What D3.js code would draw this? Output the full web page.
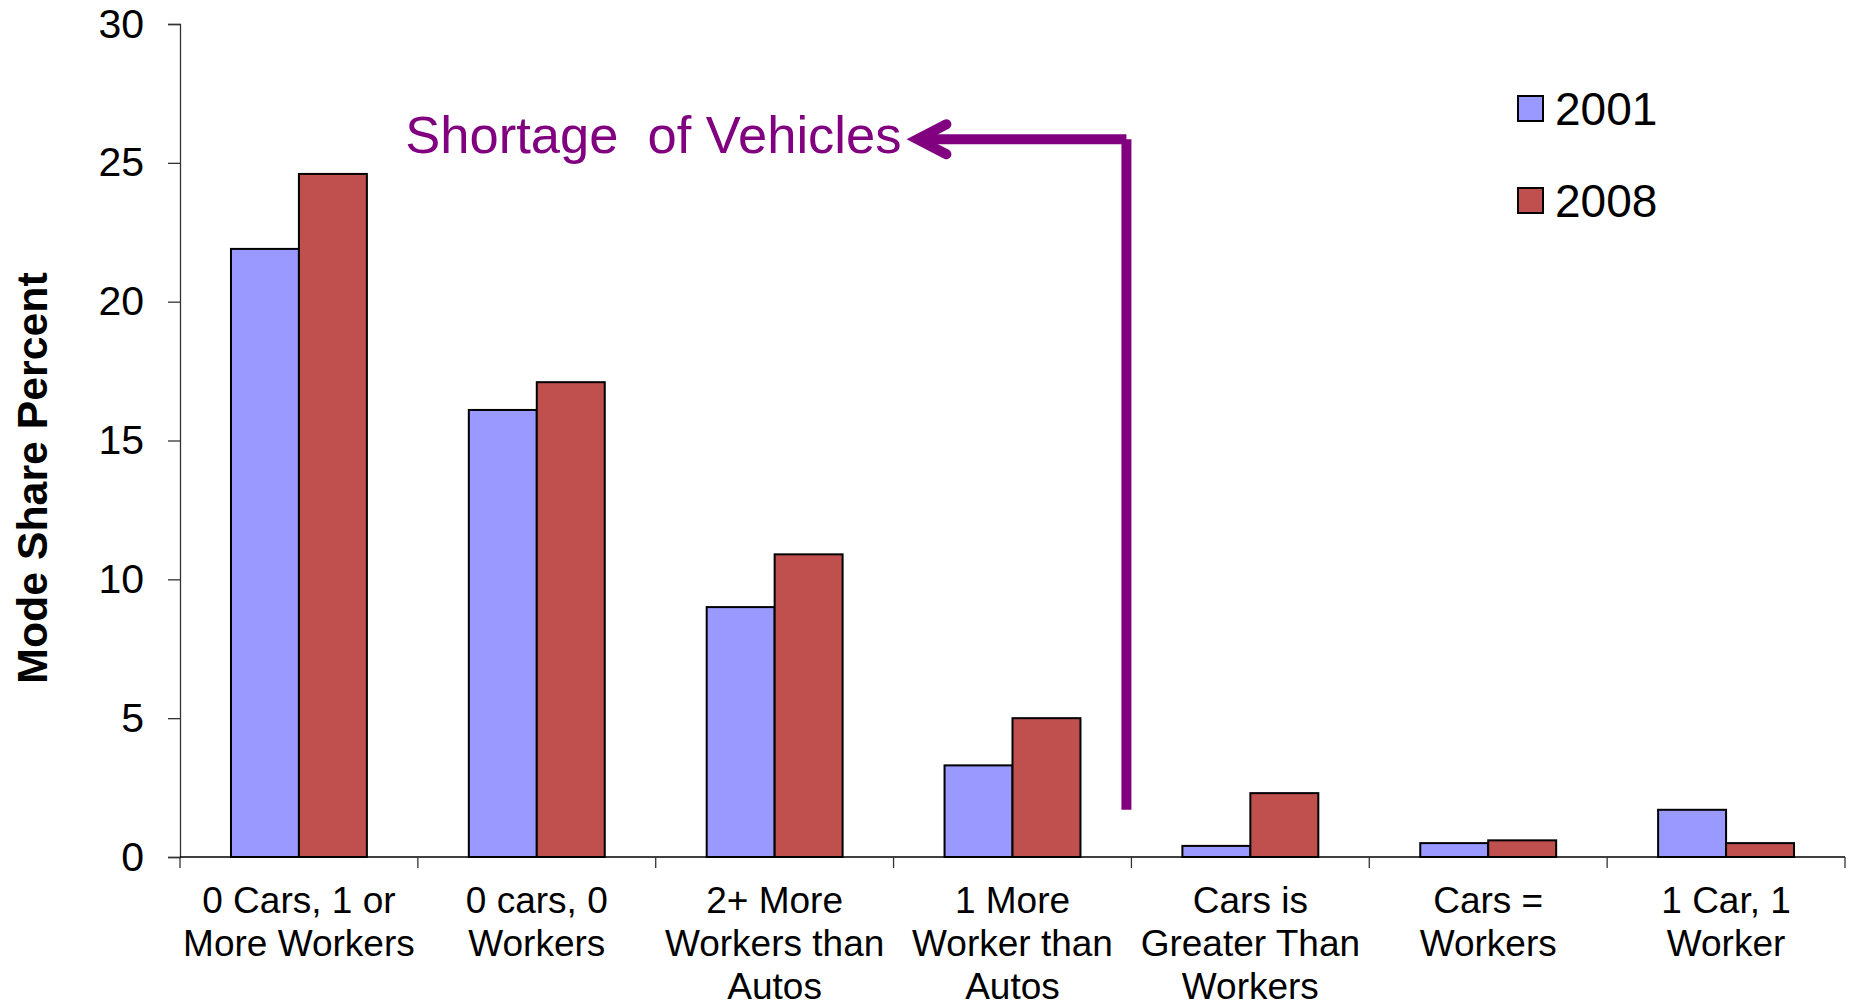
<!DOCTYPE html>
<html>
<head>
<meta charset="utf-8">
<style>
  body { margin: 0; background: #fff; }
  text { font-family: "Liberation Sans", Arial, sans-serif; }
</style>
<script src="https://d3js.org/d3.v7.min.js"></script>
</head>
<body>
<svg id="chart" width="1852" height="1005"></svg>
<script>
// data
var categories = ["0 Cars, 1 or|More Workers", "0 cars, 0|Workers", "2+ More|Workers than|Autos",
  "1 More|Worker than|Autos", "Cars is|Greater Than|Workers", "Cars =|Workers", "1 Car, 1|Worker"];
var seriesNames = ["2001", "2008"];
var values2001 = [21.9, 16.1, 9.0, 3.3, 0.4, 0.5, 1.7];
var values2008 = [24.6, 17.1, 10.9, 5.0, 2.3, 0.6, 0.5];
var yTicks = [0, 5, 10, 15, 20, 25, 30];
var colors = ["#9999FF", "#C0504D"];

var svg = d3.select("#chart");
var plotLeft = 180, plotRight = 1845, plotTop = 24, plotBottom = 857;

var x = d3.scaleBand().domain(categories).range([plotLeft, plotRight]).padding(0);
var xs = d3.scaleBand().domain(seriesNames).range([0, x.bandwidth()]).paddingInner(0).paddingOuter(0.75);
var y = d3.scaleLinear().domain([0, 30]).range([plotBottom, plotTop]);

var rows = categories.map(function(c, i) {
  return { cat: c, vals: [values2001[i], values2008[i]] };
});

// y axis
var yAxis = svg.append("g")
  .attr("transform", "translate(" + plotLeft + ",0)")
  .call(d3.axisLeft(y).tickValues(yTicks).tickSize(12).tickPadding(24).tickFormat(d3.format("d")));
yAxis.select(".domain").attr("stroke", "#333").attr("stroke-width", 1.3);
yAxis.selectAll(".tick line").attr("stroke", "#333").attr("stroke-width", 1.3);
yAxis.selectAll(".tick text").attr("font-size", 41).attr("fill", "#000")
  .attr("font-family", "Liberation Sans, Arial, sans-serif");

// bars
var groups = svg.append("g").selectAll("g")
  .data(rows).enter().append("g")
  .attr("transform", function(d) { return "translate(" + x(d.cat) + ",0)"; });

groups.selectAll("rect")
  .data(function(d) { return d.vals.map(function(v, j) { return { key: seriesNames[j], v: v, j: j }; }); })
  .enter().append("rect")
  .attr("x", function(d) { return xs(d.key); })
  .attr("y", function(d) { return y(d.v); })
  .attr("width", xs.bandwidth())
  .attr("height", function(d) { return y(0) - y(d.v); })
  .attr("fill", function(d) { return colors[d.j]; })
  .attr("stroke", "#000")
  .attr("stroke-width", 2);

// x axis line and ticks at category boundaries
svg.append("line")
  .attr("x1", plotLeft).attr("x2", plotRight)
  .attr("y1", plotBottom).attr("y2", plotBottom)
  .attr("stroke", "#000").attr("stroke-width", 1.5);

var bounds = categories.map(function(c) { return x(c); }).concat([plotRight]);
svg.append("g").selectAll("line")
  .data(bounds).enter().append("line")
  .attr("x1", function(d) { return d; }).attr("x2", function(d) { return d; })
  .attr("y1", plotBottom).attr("y2", plotBottom + 11)
  .attr("stroke", "#333").attr("stroke-width", 1.3);

// category labels
var labels = svg.append("g").selectAll("text")
  .data(categories).enter().append("text")
  .attr("text-anchor", "middle")
  .attr("font-size", 37)
  .attr("fill", "#000");
labels.each(function(c) {
  var lines = c.split("|");
  var t = d3.select(this);
  lines.forEach(function(l, i) {
    t.append("tspan")
      .attr("x", x(c) + x.bandwidth() / 2)
      .attr("y", 913 + i * 43)
      .text(l);
  });
});

// y axis title
svg.append("text")
  .attr("transform", "translate(47,478) rotate(-90)")
  .attr("text-anchor", "middle")
  .attr("font-size", 42.8)
  .attr("font-weight", "bold")
  .attr("fill", "#000")
  .text("Mode Share Percent");

// legend
var legend = svg.append("g").selectAll("g")
  .data(seriesNames).enter().append("g")
  .attr("transform", function(d, i) { return "translate(1518," + (96 + i * 92) + ")"; });
legend.append("rect")
  .attr("width", 25).attr("height", 25)
  .attr("fill", function(d, i) { return colors[i]; })
  .attr("stroke", "#000").attr("stroke-width", 2);
legend.append("text")
  .attr("x", 37).attr("y", 29)
  .attr("font-size", 46)
  .attr("fill", "#000")
  .text(function(d) { return d; });

// annotation: shortage of vehicles arrow
var purple = "#800080";
var cornerX = x(categories[4]) - 5;
var arrowY = y(25.85);
var tipX = cornerX - 213;
svg.append("line")
  .attr("x1", cornerX).attr("x2", tipX + 4)
  .attr("y1", arrowY).attr("y2", arrowY)
  .attr("stroke", purple).attr("stroke-width", 10);
svg.append("line")
  .attr("x1", cornerX).attr("x2", cornerX)
  .attr("y1", arrowY).attr("y2", y(1.7))
  .attr("stroke", purple).attr("stroke-width", 10);
svg.append("path")
  .attr("d", "M" + (tipX + 33) + "," + (arrowY - 15) + " L" + (tipX + 4) + "," + arrowY + " L" + (tipX + 33) + "," + (arrowY + 15))
  .attr("fill", "none")
  .attr("stroke", purple).attr("stroke-width", 10)
  .attr("stroke-linecap", "round")
  .attr("stroke-linejoin", "miter");
svg.append("text")
  .attr("x", tipX - 12).attr("y", 153)
  .attr("text-anchor", "end")
  .attr("font-size", 52.5)
  .attr("fill", purple)
  .style("white-space", "pre")
  .text("Shortage  of Vehicles");
</script>
</body>
</html>
